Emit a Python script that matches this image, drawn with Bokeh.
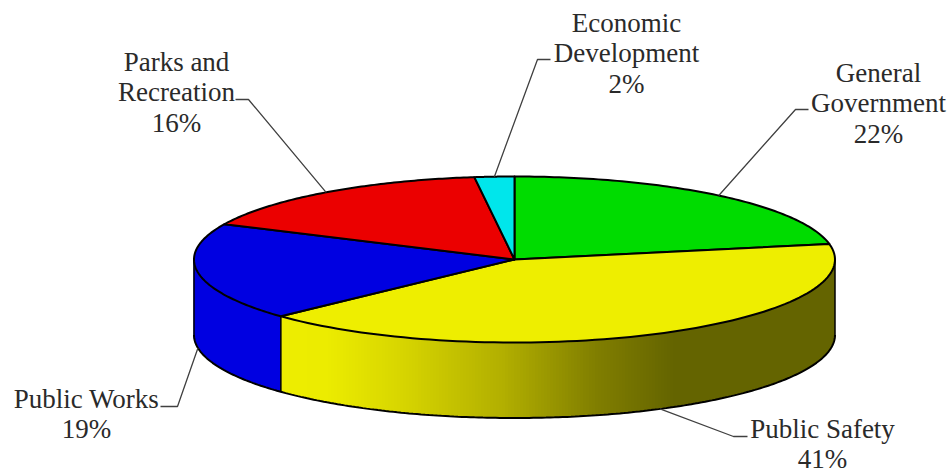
import numpy as np
from bokeh.core.properties import value
from bokeh.embed import file_html
from bokeh.plotting import figure
from bokeh.resources import INLINE

# Budget shares, clockwise from twelve o'clock
categories = ["General Government", "Public Safety", "Public Works",
              "Parks and Recreation", "Economic Development"]
shares = [22, 41, 19, 16, 2]
colors = ["#00DC00", "#EEEE00", "#0000E1", "#EB0000", "#00E6EB"]

# Label text, one entry per line
label_lines = [
    ["General", "Government", "22%"],
    ["Public Safety", "41%"],
    ["Public Works", "19%"],
    ["Parks and", "Recreation", "16%"],
    ["Economic", "Development", "2%"],
]
label_x = [878, 822, 86, 176, 626]
label_y = [72, 428, 398, 61, 22]
# Elbow and end of each leader line, plus the rim it attaches to
elbow_x = [795, 733, 177, 248, 537]
elbow_y = [109, 436, 406, 99, 59]
end_x = [808, 747, 160, 235, 550]
on_side_wall = [False, True, True, False, False]

# Shading along the lit side wall: x position and colour channel level
shade_x = [284, 325, 400, 500, 590, 672, 835]
shade_r = [238, 236, 215, 178, 130, 100, 100]
shade_g = [238, 236, 213, 175, 128, 100, 100]

CX, CY, RX, RY, DEPTH = 514.0, 259.0, 320.5, 83.0, 75.5
LINE_HEIGHT = 30.5


def rim(t_deg, drop=0.0):
    t = np.radians(t_deg)
    return CX + RX * np.sin(t), CY - RY * np.cos(t) + drop


p = figure(width=952, height=473, x_range=(0, 952), y_range=(473, 0),
           output_backend="svg", toolbar_location=None, min_border=0,
           outline_line_color=None, background_fill_color="white")
p.axis.visible = False
p.grid.visible = False

edges = np.concatenate([[0], np.cumsum(shares)]) * 3.6


def wall(t0, t1, n=120):
    ts = np.linspace(t0, t1, n)
    tx, ty = rim(ts)
    bx, by = rim(ts[::-1], DEPTH)
    return list(tx) + list(bx), list(ty) + list(by)


# Side wall of the blue slice, up to the leftmost point of the disc
wx, wy = wall(edges[2], 270)
p.patch(wx, wy, fill_color=colors[2], line_color=colors[2], line_width=1)

# Side wall of the yellow slice: strips of even width, each one running under
# its neighbour so that no seams show, laid from the far end toward the seam
seam_x = rim(edges[2])[0]
strip_x = np.arange(CX + RX, seam_x, -3.0)
strip_x = np.append(strip_x, seam_x)
strip_t = 180 - np.degrees(np.arcsin(np.clip((strip_x - CX) / RX, -1, 1)))
xs, ys, fills = [], [], []
for k in range(1, len(strip_t)):
    a = strip_t[max(k - 2, 0)]
    b = strip_t[k]
    wx, wy = wall(a, b, 6)
    xs.append(wx)
    ys.append(wy)
    mid = (strip_x[k - 1] + strip_x[k]) / 2
    r = int(np.interp(mid, shade_x, shade_r))
    g = int(np.interp(mid, shade_x, shade_g))
    fills.append(f"#{r:02x}{g:02x}00")
p.patches(xs, ys, fill_color=fills, line_color=None)

# Outline of the wall: both verticals, the seam between slices, the lower rim
ts = np.linspace(90, 270, 240)
bx, by = rim(ts, DEPTH)
p.line(bx, by, line_color="#000000", line_width=2)
for t in (90, edges[2], 270):
    x0, y0 = rim(t)
    x1, y1 = rim(t, DEPTH)
    p.line([x0, x1], [y0, y1], line_color="#000000", line_width=1.5)

# Top face of the disc
for i, col in enumerate(colors):
    ts = np.linspace(edges[i], edges[i + 1], 90)
    tx, ty = rim(ts)
    p.patch([CX] + list(tx), [CY] + list(ty), fill_color=col,
            line_color="#000000", line_width=2, line_join="round")

# Leader lines start on the rim at each slice's mid angle
for i in range(len(shares)):
    mid = (edges[i] + edges[i + 1]) / 2
    sx, sy = rim(mid, DEPTH if on_side_wall[i] else 0.0)
    p.line([sx, elbow_x[i], end_x[i]], [sy, elbow_y[i], elbow_y[i]],
           line_color="#404040", line_width=1.3)

# Labels
for i, lines in enumerate(label_lines):
    p.text([label_x[i]] * len(lines),
           [label_y[i] + k * LINE_HEIGHT for k in range(len(lines))],
           text=lines, text_font=value("Liberation Serif"),
           text_font_size="27px", text_color="#2A2A2A",
           text_align="center", text_baseline="middle")

open("out.html", "w").write(file_html(p, INLINE))
